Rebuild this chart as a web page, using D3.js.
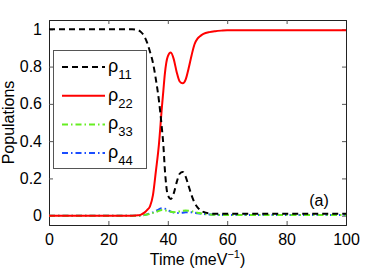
<!DOCTYPE html>
<html>
<head>
<meta charset="utf-8">
<script src="https://cdn.jsdelivr.net/npm/d3@7"></script>
<style>
  body { margin: 0; background: #fff; }
  text { font-family: "Liberation Sans", Arial, sans-serif; }
</style>
</head>
<body>
<svg></svg>
<script>
// data
const time = [0, 28, 30, 31, 32, 33, 34, 35, 36, 37, 38, 38.5, 39, 40, 41, 42, 43, 44, 45, 46, 47, 48, 49, 50, 51, 52, 54, 56, 58, 60, 65, 100];
const rho11 = [1, 1, 0.995, 0.985, 0.965, 0.93, 0.88, 0.82, 0.73, 0.62, 0.47, 0.38, 0.25, 0.11, 0.09, 0.12, 0.18, 0.225, 0.235, 0.21, 0.16, 0.11, 0.07, 0.045, 0.03, 0.02, 0.012, 0.01, 0.01, 0.01, 0.01, 0.01];
const rho22 = [0, 0, 0.002, 0.006, 0.015, 0.03, 0.05, 0.11, 0.24, 0.38, 0.58, 0.67, 0.76, 0.855, 0.875, 0.84, 0.77, 0.72, 0.71, 0.73, 0.79, 0.86, 0.92, 0.95, 0.965, 0.975, 0.985, 0.99, 0.993, 0.995, 0.995, 0.995];
const rho33 = [0, 0, 0, 0.001, 0.003, 0.006, 0.01, 0.015, 0.02, 0.026, 0.03, 0.03, 0.029, 0.025, 0.021, 0.019, 0.02, 0.023, 0.026, 0.028, 0.027, 0.024, 0.02, 0.016, 0.013, 0.01, 0.007, 0.005, 0.004, 0.004, 0.004, 0.004];
const rho44 = [0, 0, 0, 0.001, 0.003, 0.007, 0.012, 0.018, 0.026, 0.034, 0.04, 0.04, 0.038, 0.03, 0.022, 0.017, 0.015, 0.015, 0.016, 0.018, 0.019, 0.018, 0.016, 0.013, 0.011, 0.009, 0.007, 0.005, 0.004, 0.004, 0.004, 0.004];
const xTicks = [0, 20, 40, 60, 80, 100];
const yTicks = [0, 0.2, 0.4, 0.6, 0.8, 1];

const WIDTH = 382;
const HEIGHT = 273;
const M = {left: 49, right: 346, top: 20, bottom: 225};

let svg = d3.select('svg').attr('width', WIDTH).attr('height', HEIGHT);

let x = d3.scaleLinear().domain([0, 100]).range([M.left, M.right]);
let y = d3.scaleLinear().domain([-0.05, 1.05]).range([M.bottom, M.top]);

// axes box with inward ticks
svg.append('g').attr('transform', `translate(0,${M.bottom})`)
  .call(d3.axisBottom(x).tickValues(xTicks).tickSize(-4).tickPadding(9).tickFormat(d3.format('d')))
  .call(g => g.selectAll('text').style('font-size', '16px').attr('fill', '#000'));
svg.append('g').attr('transform', `translate(0,${M.top})`)
  .call(d3.axisTop(x).tickValues(xTicks).tickSize(-4).tickFormat(''));
svg.append('g').attr('transform', `translate(${M.left},0)`)
  .call(d3.axisLeft(y).tickValues(yTicks).tickSize(-4).tickPadding(7).tickFormat(d => d === 0 || d === 1 ? d3.format('d')(d) : d3.format('.1f')(d)))
  .call(g => g.selectAll('text').style('font-size', '16px').attr('fill', '#000'));
svg.append('g').attr('transform', `translate(${M.right},0)`)
  .call(d3.axisRight(y).tickValues(yTicks).tickSize(-4).tickFormat(''));
svg.selectAll('.domain').attr('stroke', '#222');
svg.selectAll('.tick line').attr('stroke', '#555');

const series = [
  {vals: rho11, color: '#000', dash: '6,4', label: '11'},
  {vals: rho22, color: '#ff0000', dash: null, label: '22'},
  {vals: rho33, color: '#66ee22', dash: '6,3,1.5,3', label: '33'},
  {vals: rho44, color: '#1a4dff', dash: '6,3,1.5,3', label: '44'}
];

let line = d3.line().curve(d3.curveMonotoneX);

series.slice().reverse().forEach(s => {
  svg.append('path')
    .attr('d', line(time.map((t, i) => [x(t), y(s.vals[i])])))
    .attr('fill', 'none')
    .attr('stroke', s.color)
    .attr('stroke-width', 2)
    .attr('stroke-dasharray', s.dash);
});

// legend
let lg = svg.append('g');
lg.append('rect').attr('x', 53.5).attr('y', 50.5).attr('width', 93).attr('height', 118)
  .attr('fill', '#fff').attr('stroke', '#555').attr('stroke-width', 1);
series.forEach((s, i) => {
  let ly = 67 + i * 28.7;
  lg.append('line').attr('x1', 62).attr('x2', 105).attr('y1', ly).attr('y2', ly)
    .attr('stroke', s.color).attr('stroke-width', 2).attr('stroke-dasharray', s.dash);
  let t = lg.append('text').attr('x', 108).attr('y', ly + 5).style('font-size', '18px');
  t.append('tspan').text('ρ');
  t.append('tspan').attr('dy', 7).style('font-size', '13px').text(s.label);
});

// labels
svg.append('text').attr('x', 319).attr('y', 206).attr('text-anchor', 'middle')
  .style('font-size', '16px').text('(a)');

let xl = svg.append('text').attr('x', (M.left + M.right) / 2).attr('y', 265)
  .attr('text-anchor', 'middle').style('font-size', '16px');
xl.append('tspan').text('Time (meV');
xl.append('tspan').attr('dy', -7).style('font-size', '11px').text('−1');
xl.append('tspan').attr('dy', 7).text(')');

svg.append('text').attr('transform', `translate(14,${(M.top + M.bottom) / 2}) rotate(-90)`)
  .attr('text-anchor', 'middle').style('font-size', '16px').text('Populations');
</script>
</body>
</html>
